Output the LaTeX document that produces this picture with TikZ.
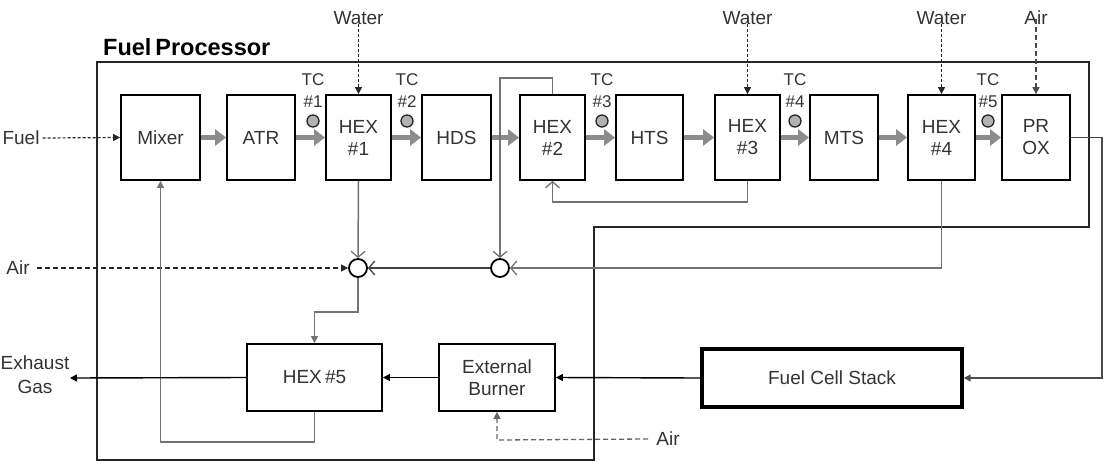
\documentclass[tikz,border=0pt]{standalone}
\usepackage{fontspec}
\setmainfont{Liberation Sans}
\usetikzlibrary{arrows.meta}
\begin{document}
\begin{tikzpicture}[x=1pt,y=-1pt,
  every node/.style={text=black!80, font=\fontsize{19}{22}\selectfont, inner sep=0pt},
  blk/.style={draw=black, line width=1.8pt, minimum height=85pt, align=center},
  blk2/.style={draw=black, line width=1.8pt, minimum height=67pt, align=center},
  fcs/.style={draw=black, line width=3.4pt, minimum height=58pt, minimum width=260pt},
  lbl/.style={align=center},
  tclbl/.style={align=center, font=\fontsize{17}{22}\selectfont},
  tcdot/.style={circle, draw=black!85, fill=black!30, line width=1.3pt, minimum size=12pt},
  mix/.style={circle, draw=black, line width=1.8pt, minimum size=18pt},
  flow/.style={draw=black!45, line width=5.5pt, -{Triangle[length=11pt,width=16pt]}},
  feed/.style={draw=black!85, line width=1.2pt, dash pattern=on 3pt off 2pt, -{Triangle[length=7pt,width=7pt]}},
  airfeed/.style={draw=black!85, line width=1.3pt, dash pattern=on 5pt off 3pt, -{Triangle[length=7pt,width=7pt]}},
  thin/.style={draw=black!55, line width=1.5pt},
  openarr/.style={-{Straight Barb[length=6pt,width=14pt,line width=1.3pt]}},
  fillarr/.style={-{Triangle[length=7pt,width=7pt]}},
  blkline/.style={draw=black, line width=1.4pt, -{Triangle[length=7pt,width=7pt]}}
]
\useasboundingbox (0,0) rectangle (1110,466);

% frame
\draw[line width=2.4pt, black!85] (97,62) -- (1089,62) -- (1089,227) -- (594,227) -- (594,460) -- (97,460) -- cycle;
\node[text=black, font=\bfseries\fontsize{23.5}{26}\selectfont, anchor=base west] (fp) at (103,55) {Fuel\,Processor};

% main row
\node[blk, minimum width=79pt] (mixer) at (160.5,137.5) {Mixer};
\node[blk, minimum width=68pt] (atr) at (261,137.5) {ATR};
\node[blk, minimum width=65pt] (hex1) at (358.5,137.5) {HEX\\\#1};
\node[blk, minimum width=69pt] (hds) at (456.5,137.5) {HDS};
\node[blk, minimum width=65pt] (hex2) at (552.5,137.5) {HEX\\\#2};
\node[blk, minimum width=67pt] (hts) at (649.5,137.5) {HTS};
\node[blk, minimum width=65pt] (hex3) at (747.5,137.5) {HEX\\\#3};
\node[blk, minimum width=68pt] (mts) at (844,137.5) {MTS};
\node[blk, minimum width=67pt] (hex4) at (941.5,137.5) {HEX\\\#4};
\node[blk, minimum width=68pt] (prox) at (1036,137.5) {PR\\OX};

% bottom row
\node[blk2, minimum width=135pt] (hex5) at (314.5,377.5) {HEX\,\#5};
\node[blk2, minimum width=116pt] (burner) at (497,377.5) {External\\Burner};
\node[fcs] (stack) at (832,378) {Fuel Cell Stack};

% mixing points
\node[mix] (c1) at (358,268) {};
\node[mix] (c2) at (500,268) {};

% flow arrows
\draw[flow] (mixer) -- (atr);
\draw[flow] (atr) -- (hex1);
\draw[flow] (hex1) -- (hds);
\draw[flow] (hds) -- (hex2);
\draw[flow] (hex2) -- (hts);
\draw[flow] (hts) -- (hex3);
\draw[flow] (hex3) -- (mts);
\draw[flow] (mts) -- (hex4);
\draw[flow] (hex4) -- (prox);

% thermocouples
\node[tclbl] (tc1l) at (313,91) {TC\\\#1};
\node[tcdot] (tc1) at (313,121) {};
\node[tclbl] (tc2l) at (407,91) {TC\\\#2};
\node[tcdot] (tc2) at (407,121) {};
\node[tclbl] (tc3l) at (602,91) {TC\\\#3};
\node[tcdot] (tc3) at (602,121) {};
\node[tclbl] (tc4l) at (795,91) {TC\\\#4};
\node[tcdot] (tc4) at (795,121) {};
\node[tclbl] (tc5l) at (988,91) {TC\\\#5};
\node[tcdot] (tc5) at (988,121) {};

% top feeds
\node[lbl] (w1) at (358.5,18) {Water};
\node[lbl] (w3) at (747.5,18) {Water};
\node[lbl] (w4) at (941.5,18) {Water};
\node[lbl] (a5) at (1036,18) {Air};
\draw[feed] ([yshift=6pt]w1.south) -- (hex1.north);
\draw[feed] ([yshift=6pt]w3.south) -- (hex3.north);
\draw[feed] ([yshift=6pt]w4.south) -- (hex4.north);
\draw[airfeed, draw=black!70] ([yshift=6pt]a5.south) -- (prox.north);

% left feeds
\node[lbl] (fuel) at (21,138) {Fuel};
\draw[feed] ([xshift=3pt]fuel.east) -- (mixer.west);
\node[lbl] (airl) at (18,268) {Air};
\draw[airfeed] ([xshift=7pt]airl.east) -- (c1.west);

% loops to mixing points
\draw[thin, openarr] (hex1.south) -- (c1.north);
\draw[thin, openarr] (hex2.north) -- (552.5,78) -- (500,78) -- (c2.north);
\draw[thin, openarr] (hex3.south) -- (747.5,202) -- (552.5,202) -- (hex2.south);
\draw[thin, openarr] (hex4.south) -- (941.5,268) -- (c2.east);
\draw[draw=black!75, line width=1.5pt, openarr] (c2.west) -- (c1.east);
\draw[thin, fillarr] (c1.south) -- (358,312) -- (314.5,312) -- (hex5.north);
\draw[thin, fillarr] (hex5.south) -- (314.5,442) -- (160.5,442) -- (mixer.south);

% reformate to stack and exhaust chain
\draw[draw=black!70, line width=1.5pt, fillarr] (prox.east) -- (1102,137.5) -- (1102,378) -- (stack.east);
\draw[blkline] (stack.west) -- (burner.east);
\draw[blkline] (burner.west) -- (hex5.east);
\coordinate (exh) at (70,378);
\draw[blkline] (hex5.west) -- (exh);
\node[lbl, font=\fontsize{19}{24}\selectfont] (exhl) at (35,375) {Exhaust\\Gas};

% bottom air
\node[lbl] (airb) at (668,439) {Air};
\coordinate (airbk) at (497,440);
\draw[draw=black!60, line width=1.3pt, dash pattern=on 5pt off 3pt, -{Triangle[length=7pt,width=7pt]}] ([xshift=-8pt]airb.west) -- (airbk) -- (burner.south);

\end{tikzpicture}
\end{document}
